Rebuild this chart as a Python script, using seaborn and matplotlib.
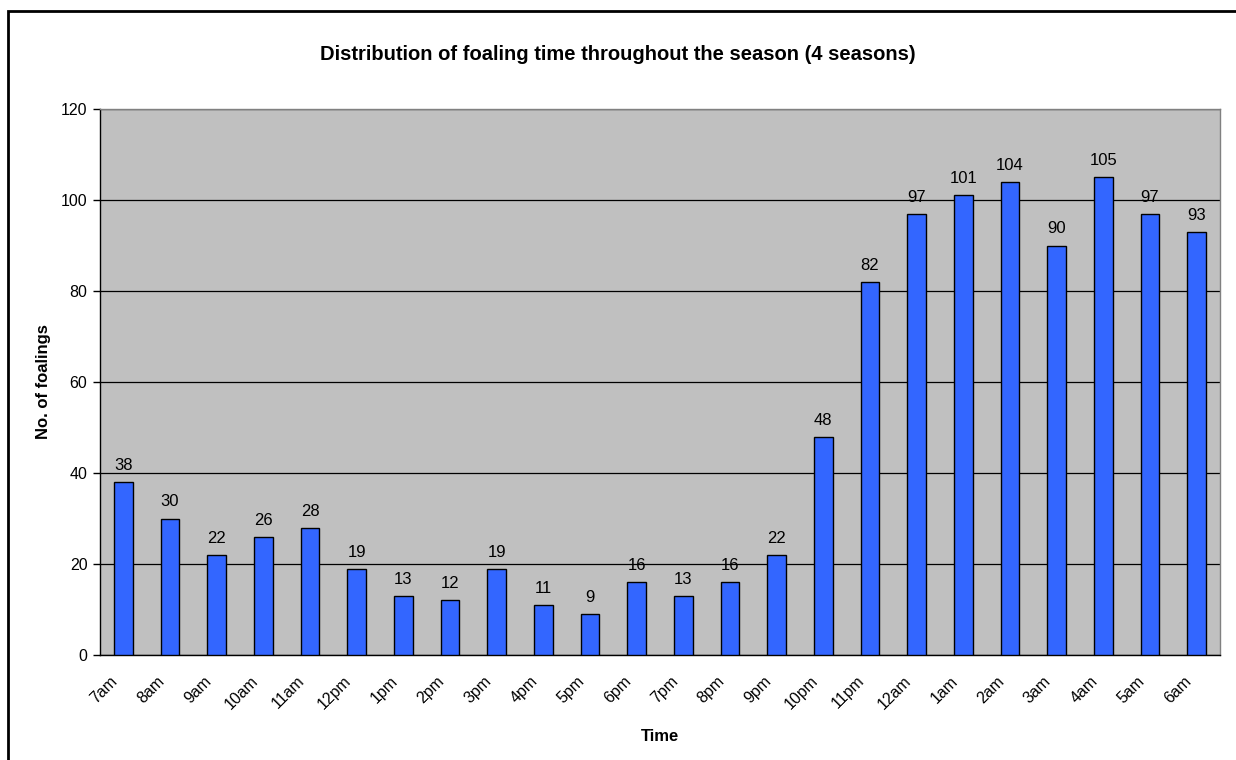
import matplotlib
matplotlib.use("Agg")
import matplotlib.pyplot as plt
import matplotlib.patches as mpatches
import matplotlib.transforms as mtransforms
import seaborn as sns
import pandas as pd
import numpy as np

times = ["7am", "8am", "9am", "10am", "11am", "12pm", "1pm", "2pm", "3pm", "4pm",
         "5pm", "6pm", "7pm", "8pm", "9pm", "10pm", "11pm", "12am", "1am", "2am",
         "3am", "4am", "5am", "6am"]
foalings = [38, 30, 22, 26, 28, 19, 13, 12, 19, 11, 9, 16, 13, 16, 22, 48, 82, 97,
            101, 104, 90, 105, 97, 93]
y_ticks = [0, 20, 40, 60, 80, 100, 120]

sns.set_theme(style="white")
plt.rcParams['font.family'] = ['Liberation Sans', 'DejaVu Sans']
plt.rcParams['text.color'] = 'black'
plt.rcParams['axes.labelcolor'] = 'black'
plt.rcParams['xtick.color'] = 'black'
plt.rcParams['ytick.color'] = 'black'

df = pd.DataFrame({"Time": times, "Foalings": foalings})

fig = plt.figure(figsize=(12.36, 7.6), dpi=100)
ax = fig.add_axes([100/1236, 1-655/760, 1120/1236, 546/760])
ax.set_facecolor("#C0C0C0")

sns.barplot(data=df, x="Time", y="Foalings", order=times, color="#3366FF",
            saturation=1, width=0.4, edgecolor="black", linewidth=1.0, ax=ax, zorder=3)

ax.set_xlim(-0.5, len(times) - 0.5)
ax.set_ylim(0, 120)
ax.set_yticks(y_ticks)
ax.set_yticklabels([str(v) for v in y_ticks], fontsize=11.5)
ax.yaxis.grid(True, color="black", linewidth=0.9, zorder=1)
ax.set_axisbelow(True)

# value labels
for i, v in enumerate(foalings):
    ax.annotate(str(v), (i, v), xytext=(0, 6.5), textcoords="offset points",
                ha="center", va="bottom", fontsize=12, color="black")

# x ticks: marks at boundaries, labels near category
ax.set_xticks(np.arange(len(times)))
ax.set_xticklabels(times, rotation=45, ha="right", va="center",
                   rotation_mode="anchor", fontsize=11.5)
ax.set_xticks(np.arange(len(times) + 1) - 0.5, minor=True)
ax.tick_params(axis="x", which="major", length=0, pad=17)
ax.tick_params(axis="x", which="minor", length=5, width=1, color="black", direction="out")
ax.tick_params(axis="y", length=5, width=1, color="black", direction="out", pad=4, left=True)
offset = mtransforms.ScaledTranslation(-8/100, 0, fig.dpi_scale_trans)
for lbl in ax.get_xticklabels():
    lbl.set_transform(lbl.get_transform() + offset)

for s in ["left", "bottom"]:
    ax.spines[s].set_color("black")
    ax.spines[s].set_linewidth(1.0)
for s in ["top", "right"]:
    ax.spines[s].set_color("#808080")
    ax.spines[s].set_linewidth(1.0)

ax.set_xlabel("Time", fontsize=12, fontweight="bold", labelpad=12)
ax.set_ylabel("No. of foalings", fontsize=12, fontweight="bold", labelpad=7)
fig.text(0.5, 1 - 54/760, "Distribution of foaling time throughout the season (4 seasons)",
         ha="center", va="center", fontsize=14.5, fontweight="bold")

border = mpatches.Rectangle((8/1236, -0.02), 1.05, 1 - 11/760 + 0.02, transform=fig.transFigure,
                            fill=False, edgecolor="black", linewidth=2, clip_on=False)
fig.patches.append(border)

fig.savefig("out.png", dpi=100, facecolor="white")
